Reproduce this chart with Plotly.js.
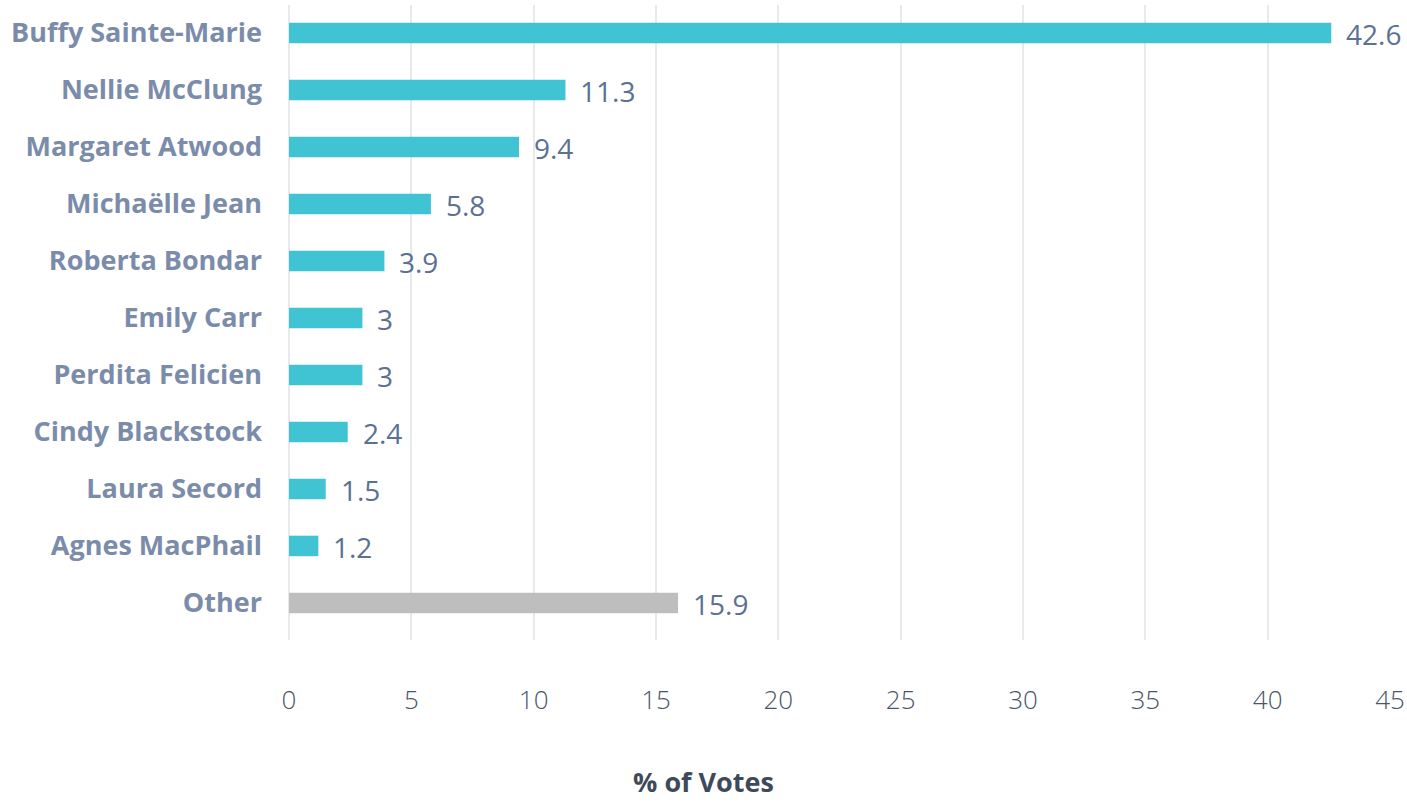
<!DOCTYPE html>
<html>
<head>
<meta charset="utf-8">
<script src="https://cdn.plot.ly/plotly-3.0.1.min.js"></script>
<style>html,body{margin:0;padding:0;background:#fff;}#chart{width:1407px;height:802px;}</style>
</head>
<body>
<div id="chart"></div>
<script>
const names = ["Buffy Sainte-Marie","Nellie McClung","Margaret Atwood","Michaëlle Jean","Roberta Bondar","Emily Carr","Perdita Felicien","Cindy Blackstock","Laura Secord","Agnes MacPhail","Other"];
const votes = [42.6,11.3,9.4,5.8,3.9,3,3,2.4,1.5,1.2,15.9];
const barColors = names.map(n => n === "Other" ? "#bebebe" : "#40c4d4");
const xTicks = [0,5,10,15,20,25,30,35,40,45];

const trace = {
  type: "bar",
  orientation: "h",
  x: votes,
  y: names,
  width: 0.36,
  marker: {color: barColors},
  hoverinfo: "none"
};

const annotations = votes.map((v, i) => ({
  x: v, y: names[i], xref: "x", yref: "y",
  text: String(v), showarrow: false, xanchor: "left", yanchor: "middle",
  xshift: 13, yshift: -1,
  font: {family: "Open Sans", size: 28, color: "#5b7192"}
}));

const layout = {
  width: 1407, height: 802,
  margin: {l: 289, r: 17, t: 5, b: 162},
  paper_bgcolor: "#fff", plot_bgcolor: "#fff",
  showlegend: false,
  title: {
    text: "<b>% of Votes</b>", x: 0.5, xref: "container", xanchor: "center",
    y: 0.024, yref: "container", yanchor: "middle",
    font: {family: "Open Sans", size: 27, color: "#3e4a5a"}
  },
  xaxis: {
    range: [0, 45], tickvals: xTicks, ticktext: xTicks.map(String),
    showgrid: true, gridcolor: "#e8e9ed", gridwidth: 2,
    zeroline: true, zerolinecolor: "#e8e9ed", zerolinewidth: 2,
    showline: false, ticks: "", ticklabelstandoff: 42,
    tickfont: {family: "Open Sans", size: 26, color: "#4a5568", weight: 300}
  },
  yaxis: {
    range: [10.65, -0.49], showgrid: false, zeroline: false, showline: false,
    ticks: "", ticklabelstandoff: 26,
    tickfont: {family: "Open Sans", size: 27, color: "#7b8cab", weight: 700}
  },
  annotations: annotations
};

Plotly.newPlot("chart", [trace], layout, {displayModeBar: false, staticPlot: true});
</script>
</body>
</html>
